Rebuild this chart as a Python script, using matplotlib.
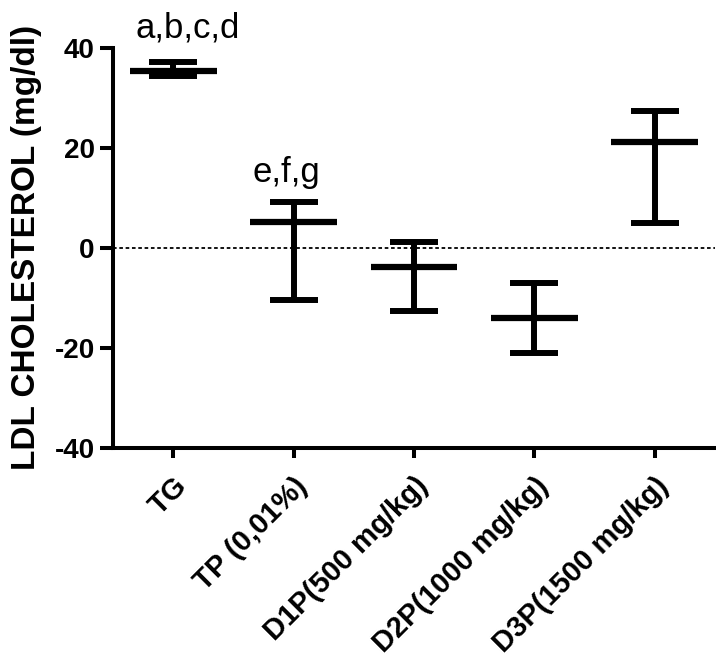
import matplotlib
matplotlib.use("Agg")
import matplotlib.pyplot as plt
import numpy as np

plt.rcParams['font.family'] = ['Liberation Sans', 'DejaVu Sans']
plt.rcParams['axes.unicode_minus'] = False

# groups and values (mg/dl)
groups = ["TG", "TP (0,01%)", "D1P(500 mg/kg)", "D2P(1000 mg/kg)", "D3P(1500 mg/kg)"]
means = [35.3, 5.2, -3.8, -14.1, 21.1]
lower = [34.4, -10.5, -12.7, -21.0, 4.9]
upper = [37.1, 9.2, 1.1, -7.0, 27.4]
letters = ["a,b,c,d", "e,f,g", "", "", ""]

x = np.arange(len(groups))
means_a = np.array(means)
yerr = [means_a - np.array(lower), np.array(upper) - means_a]

fig = plt.figure(figsize=(7.16, 6.64), dpi=100)
ax = fig.add_axes([113 / 716, 216.3 / 664, 602 / 716, 400 / 664])

# zero reference line
ax.axhline(0, color='black', lw=1.3, ls=(0, (2, 1.5)), zorder=1)

# error bars (stems + caps)
ax.errorbar(x, means, yerr=yerr, fmt='none', ecolor='black',
            elinewidth=4.3, capsize=17, capthick=4.3, zorder=3)
# mean lines
ax.hlines(means, x - 0.36, x + 0.36, color='black', lw=4.5, zorder=4)

# significance letters
ax.text(0.12, 42.1, letters[0], ha='center', va='baseline', fontsize=25,
        clip_on=False)
ax.text(-0.06 + 1, 13.2, letters[1], ha='center', va='baseline', fontsize=25,
        clip_on=False)

ax.set_xlim(-0.5, 4.5)
ax.set_ylim(-40, 40)
ax.set_yticks([-40, -20, 0, 20, 40])
ax.set_xticks(x)
ax.set_xticklabels(groups, rotation=45, ha='right', va='top',
                   rotation_mode='anchor', fontsize=21, fontweight='bold')
for lab in ax.get_yticklabels():
    lab.set_fontsize(20)
    lab.set_fontweight('bold')

ax.set_ylabel("LDL CHOLESTEROL (mg/dl)", fontsize=24, fontweight='bold',
              labelpad=9)

for s in ['top', 'right']:
    ax.spines[s].set_visible(False)
for s in ['left', 'bottom']:
    ax.spines[s].set_linewidth(2.9)
ax.tick_params(axis='y', length=9.6, width=2.9, pad=3.5)
ax.tick_params(axis='x', length=7.5, width=2.9, pad=10)

fig.savefig("out.png", dpi=100)
